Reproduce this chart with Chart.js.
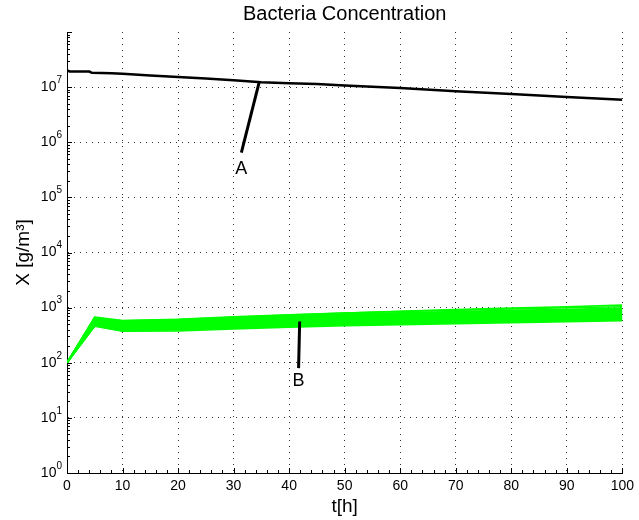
<!DOCTYPE html>
<html><head><meta charset="utf-8">
<script src="https://cdn.jsdelivr.net/npm/chart.js@4.4.0/dist/chart.umd.min.js"></script>
<style>html,body{margin:0;padding:0;background:#fff}#wrap{width:639px;height:520px}</style>
</head><body><div id="wrap"><canvas id="c" width="639" height="520"></canvas></div>
<script>
// ---- data ----
const titleText = 'Bacteria Concentration';
const xLabel = 't[h]';
const yLabel = 'X [g/m³]';
const xTicks = [0,10,20,30,40,50,60,70,80,90,100];
const yTickExponents = [0,1,2,3,4,5,6,7];

// curve A (black)
const tA = [0, 0.5, 4, 4.5, 8, 10, 15, 20, 25, 30, 35, 40, 45, 50, 60, 70, 80, 90, 100];
const xA = [2.0e7, 1.92e7, 1.92e7, 1.82e7, 1.78e7, 1.74e7, 1.62e7, 1.52e7, 1.44e7, 1.33e7, 1.23e7, 1.18e7, 1.14e7, 1.07e7, 9.6e6, 8.4e6, 7.5e6, 6.6e6, 5.9e6];

// ensemble B (green), all sampled at these times
const tB = [0, 5, 10, 20, 30, 40, 50, 60, 70, 80, 90, 100];
const B01 = [100, 458, 372, 376, 410, 440, 468, 490, 512, 532, 555, 578];
const B02 = [100, 470, 382, 392, 428, 456, 486, 506, 530, 548, 572, 596];
const B03 = [101, 482, 388, 396, 430, 470, 502, 520, 546, 566, 588, 612];
const B04 = [100, 494, 402, 412, 446, 478, 510, 540, 562, 580, 606, 628];
const B05 = [102, 506, 408, 420, 458, 494, 524, 550, 578, 602, 624, 650];
const B06 = [100, 514, 420, 432, 466, 504, 542, 568, 590, 620, 640, 664];
const B07 = [99, 526, 426, 440, 482, 516, 552, 584, 612, 634, 664, 690];
const B08 = [100, 536, 438, 454, 490, 532, 570, 596, 628, 656, 680, 706];
const B09 = [101, 546, 444, 460, 506, 546, 580, 616, 642, 674, 702, 726];
const B10 = [100, 556, 456, 474, 516, 556, 600, 628, 662, 688, 718, 750];
const B11 = [100, 566, 460, 484, 532, 574, 610, 648, 676, 710, 738, 768];
const B12 = [102, 576, 474, 492, 540, 586, 630, 660, 698, 726, 762, 792];
const B13 = [100, 586, 480, 506, 556, 598, 640, 682, 712, 750, 778, 810];
const B14 = [99, 596, 494, 514, 566, 616, 660, 694, 734, 766, 802, 836];
const B15 = [100, 606, 500, 530, 582, 626, 672, 716, 750, 790, 820, 856];
const B16 = [101, 620, 516, 540, 594, 648, 690, 732, 774, 808, 848, 880];
const B17 = [100, 634, 526, 558, 614, 662, 714, 754, 794, 836, 870, 912];
const B18 = [100, 650, 546, 570, 628, 686, 732, 782, 820, 864, 900, 940];
const B19 = [102, 664, 558, 592, 652, 704, 762, 804, 852, 890, 934, 972];
const B20 = [100, 678, 584, 614, 682, 742, 800, 852, 900, 948, 992, 1040];
const B21 = [100, 642, 576, 606, 670, 736, 796, 862, 918, 978, 1040, 1112];
const ensembleB = [B01,B02,B03,B04,B05,B06,B07,B08,B09,B10,B11,B12,B13,B14,B15,B16,B17,B18,B19,B20,B21];

// annotation pointers and labels
const pointerA = {t: [34.6, 31.4], x: [1.22e7, 6.5e5]};
const pointerB = {t: [41.9, 41.7], x: [560, 80]};
const labelA = {text: 'A', t: 31.4, x: 3.27e5};
const labelB = {text: 'B', t: 41.7, x: 46};

// ---- chart ----
const FONT = '"Liberation Sans", Arial, Helvetica, sans-serif';
const zip = (ts, vs) => ts.map((t, i) => ({x: t, y: vs[i]}));

const datasets = [];
datasets.push({data: zip(pointerA.t, pointerA.x), borderColor: '#000', borderWidth: 3, order: 0});
datasets.push({data: zip(pointerB.t, pointerB.x), borderColor: '#000', borderWidth: 3, order: 0});
datasets.push({data: zip(tA, xA), borderColor: '#000', borderWidth: 2.5, order: 1});
ensembleB.forEach(s => datasets.push({data: zip(tB, s), borderColor: '#00ff00', borderWidth: 1.6, order: 2}));

const innerTicks = {
  id: 'innerTicks',
  afterDraw(chart) {
    const {ctx, chartArea: a, scales: {x, y}} = chart;
    ctx.save();
    ctx.strokeStyle = '#000';
    ctx.lineWidth = 1;
    ctx.beginPath();
    for (const e of [...yTickExponents, 8]) {
      for (let m = 1; m < 10; m++) {
        const v = m * Math.pow(10, e);
        if (v > y.max) continue;
        const py = Math.round(y.getPixelForValue(v)) + 0.5;
        const len = m === 1 ? 5 : 3;
        ctx.moveTo(a.left, py); ctx.lineTo(a.left + len, py);
      }
    }
    for (let t = x.min; t <= x.max; t += 2) {
      const px = Math.round(x.getPixelForValue(t)) + 0.5;
      const len = t % 10 === 0 ? 5 : 3;
      ctx.moveTo(px, a.bottom); ctx.lineTo(px, a.bottom - len);
    }
    ctx.stroke();
    ctx.restore();
  }
};

// y tick labels as 10 with a raised exponent, plus title centred over the axes
const textPlugin = {
  id: 'textPlugin',
  afterDraw(chart) {
    const {ctx, chartArea: a, scales: {y}} = chart;
    ctx.save();
    ctx.fillStyle = '#000';
    ctx.textBaseline = 'middle';
    for (const e of yTickExponents) {
      const py = y.getPixelForValue(Math.pow(10, e));
      const exp = String(e);
      ctx.font = '10px ' + FONT;
      const ew = ctx.measureText(exp).width;
      const right = a.left - 5;
      ctx.textAlign = 'left';
      ctx.fillText(exp, right - ew, py - 7);
      ctx.font = '14px ' + FONT;
      ctx.textAlign = 'right';
      ctx.fillText('10', right - ew, py);
    }
    ctx.font = '20px ' + FONT;
    ctx.textAlign = 'center';
    ctx.fillText(titleText, (a.left + a.right) / 2, 14);
    ctx.restore();
  }
};

const annotLabels = {
  id: 'annotLabels',
  afterDatasetsDraw(chart) {
    const {ctx, scales: {x, y}} = chart;
    ctx.save();
    ctx.fillStyle = '#000';
    ctx.font = '18px ' + FONT;
    ctx.textAlign = 'center';
    ctx.textBaseline = 'middle';
    for (const l of [labelA, labelB]) {
      ctx.fillText(l.text, x.getPixelForValue(l.t), y.getPixelForValue(l.x));
    }
    ctx.restore();
  }
};

new Chart(document.getElementById('c'), {
  type: 'line',
  data: {datasets},
  plugins: [innerTicks, textPlugin, annotLabels],
  options: {
    responsive: false,
    animation: false,
    devicePixelRatio: 1,
    layout: {padding: {left: 0, right: 13, top: 32, bottom: 0}},
    elements: {point: {radius: 0}, line: {tension: 0, borderJoinStyle: 'round'}},
    plugins: {
      legend: {display: false},
      tooltip: {enabled: false},
      title: {display: false}
    },
    scales: {
      x: {
        type: 'linear', min: 0, max: 100,
        afterFit(s) { s.height = 47; },
        afterBuildTicks(s) { s.ticks = xTicks.map(v => ({value: v})); },
        ticks: {color: '#000', font: {family: FONT, size: 14}, padding: 5, maxRotation: 0, autoSkip: false},
        grid: {drawTicks: false, color: c => (c.tick && c.tick.value > 0) ? 'rgba(0,0,0,0.8)' : 'rgba(0,0,0,0)', lineWidth: 1},
        border: {display: true, color: '#000', width: 1, dash: [1, 5]},
        title: {display: true, text: xLabel, color: '#000', font: {family: FONT, size: 19}, padding: {top: 0, bottom: 2}}
      },
      y: {
        type: 'logarithmic', min: 1, max: 1e8,
        afterFit(s) { s.width = 67; },
        afterBuildTicks(s) {
          const out = [];
          for (const e of yTickExponents) out.push({value: Math.pow(10, e), major: true});
          out.push({value: 1e8, major: true});
          s.ticks = out;
        },
        ticks: {display: false, autoSkip: false},
        grid: {drawTicks: false, color: c => (c.tick && c.tick.value > 1 && c.tick.value < 1e8) ? 'rgba(0,0,0,0.8)' : 'rgba(0,0,0,0)', lineWidth: 1},
        border: {display: true, color: '#000', width: 1, dash: [1, 5]},
        title: {display: true, text: yLabel, color: '#000', font: {family: FONT, size: 19}, padding: {top: 12, bottom: 0}}
      }
    }
  }
});
</script>
</body></html>
